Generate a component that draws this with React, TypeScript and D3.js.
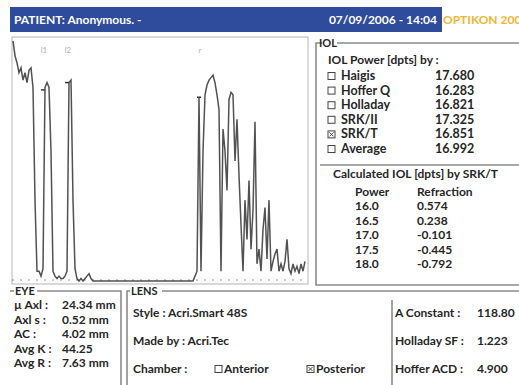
import * as d3 from "d3";

// A-scan amplitude (% of full height), one sample every 2 px of depth
const scanAmp = [
  98, 92, 89, 85, 87, 82, 85, 81, 86, 87, 79, 33, 4, 4, 2, 5, 79, 81, 79, 53,
  4, 2, 1, 2, 1, 1, 2, 4, 81, 82, 33, 5, 1, 0, 1, 0, 1, 2, 3, 1,
  0, 0, 0, 0, 0, 0, 0, 0, 0, 0, 0, 0, 0, 0, 0, 0, 0, 0, 0, 0,
  0, 0, 0, 0, 0, 0, 0, 0, 0, 0, 0, 0, 0, 0, 0, 0, 0, 0, 0, 0,
  0, 0, 0, 0, 0, 0, 0, 0, 0, 0, 0, 2, 4, 75, 4, 53, 76, 80, 82, 83,
  84, 81, 76, 70, 4, 62, 53, 37, 74, 77, 76, 49, 66, 43, 23, 4, 33, 17, 41, 13,
  29, 65, 7, 13, 4, 21, 30, 9, 33, 4, 8, 11, 13, 4, 7, 4, 8, 17, 5, 3,
  7, 4, 6, 3, 7, 4, 8,
];

// gate markers (sample index) and labels
const gateLabels = ["l1", "l2", "r"];
const gatePos = [15.5, 27.5, 93.5];
const gateAmp = [78, 81, 75];

const iolFormulas = ["Haigis", "Hoffer Q", "Holladay", "SRK/II", "SRK/T", "Average"];
const iolPowers = ["17.680", "16.283", "16.821", "17.325", "16.851", "16.992"];
const iolChecked = [false, false, false, false, true, false];

const calcPower = ["16.0", "16.5", "17.0", "17.5", "18.0"];
const calcRefraction = ["0.574", "0.238", "-0.101", "-0.445", "-0.792"];

const eyeLabels = ["µ Axl :", "Axl s :", "AC :", "Avg K :", "Avg R :"];
const eyeValues = ["24.34 mm", "0.52 mm", "4.02 mm", "44.25", "7.63 mm"];

const constLabels = ["A Constant :", "Holladay SF :", "Hoffer ACD :"];
const constValues = ["118.80", "1.223", "4.900"];

const FONT = "Lato, 'Liberation Sans', sans-serif";
const INK = "#262626";
const FRAME = "#8a8a8a";

function CheckBox({ x, y, checked }: { x: number; y: number; checked: boolean }) {
  return (
    <g>
      <rect x={x} y={y - 7.5} width={7} height={7} fill="#fff" stroke="#444" strokeWidth={1} />
      {checked && (
        <path
          d={`M${x + 1.5},${y - 6}L${x + 5.5},${y - 2}M${x + 5.5},${y - 6}L${x + 1.5},${y - 2}`}
          stroke="#444"
          strokeWidth={1}
        />
      )}
    </g>
  );
}

export default function App() {
  const W = 519;
  const H = 385;

  const plot = { left: 12, top: 37, right: 308, bottom: 284 };
  const x = d3
    .scaleLinear()
    .domain([0, scanAmp.length - 1])
    .range([13, 305]);
  const y = d3.scaleLinear().domain([0, 100]).range([281, 36]);
  const line = d3
    .line<number>()
    .x((_, i) => x(i))
    .y((d) => y(d));

  const baseTicks = d3.range(0, scanAmp.length, 4);

  const iolRow = d3.scaleLinear().domain([0, 1]).range([80, 94.6]);
  const calcRow = d3.scaleLinear().domain([0, 1]).range([210, 224.6]);
  const eyeRow = d3.scaleLinear().domain([0, 1]).range([309, 323.5]);
  const lensRow = d3.scaleLinear().domain([0, 1]).range([317, 345]);

  return (
    <svg
      width={W}
      height={H}
      style={{ position: "absolute", left: 0, top: 0, background: "#fff" }}
      fontFamily={FONT}
      fontWeight="bold"
    >
      {/* header */}
      <rect x={10} y={7} width={432} height={25} fill="#2e4b9c" />
      <text x={14} y={24} fill="#fff" fontSize={12}>
        PATIENT: Anonymous. -
      </text>
      <text x={437} y={24} fill="#fff" fontSize={12} textAnchor="end">
        07/09/2006 - 14:04
      </text>
      <text x={443} y={24} fill="#f3b531" fontSize={12}>
        OPTIKON 2000
      </text>

      {/* A-scan */}
      <rect
        x={plot.left}
        y={plot.top}
        width={plot.right - plot.left}
        height={plot.bottom - plot.top}
        fill="#fff"
        stroke="#b5b5b5"
        strokeWidth={1}
      />
      {baseTicks.map((t) => (
        <line key={t} x1={x(t)} x2={x(t)} y1={y(0)} y2={y(0) - 2} stroke="#777" strokeWidth={0.8} />
      ))}
      <path d={line(scanAmp) ?? ""} fill="none" stroke="#333" strokeWidth={1.5} strokeOpacity={0.85} />
      {gateLabels.map((g, i) => (
        <g key={g}>
          <text x={x(gatePos[i])} y={53} fill="#b0b0b0" fontSize={8} fontWeight="normal" textAnchor="middle">
            {g}
          </text>
          <line
            x1={x(gatePos[i]) - 3}
            x2={x(gatePos[i]) + 1}
            y1={y(gateAmp[i])}
            y2={y(gateAmp[i])}
            stroke="#333"
            strokeWidth={1.5}
          />
        </g>
      ))}

      {/* IOL group */}
      <path d={`M322,43H316V285H${W}`} fill="none" stroke={FRAME} strokeWidth={1.6} />
      <path d={`M337,43H${W}`} fill="none" stroke={FRAME} strokeWidth={1.6} />
      <text x={319} y={47} fill={INK} fontSize={11}>
        IOL
      </text>
      <text x={328} y={64} fill={INK} fontSize={12}>
        IOL Power [dpts] by :
      </text>
      {iolFormulas.map((f, i) => (
        <g key={f}>
          <CheckBox x={328} y={iolRow(i)} checked={iolChecked[i]} />
          <text x={341} y={iolRow(i)} fill={INK} fontSize={12.5}>
            {f}
          </text>
          <text x={435} y={iolRow(i)} fill={INK} fontSize={12.5}>
            {iolPowers[i]}
          </text>
        </g>
      ))}
      <line x1={320} x2={W} y1={165} y2={165} stroke={FRAME} strokeWidth={1.6} />
      <text x={333} y={178} fill={INK} fontSize={12}>
        Calculated IOL [dpts] by SRK/T
      </text>
      <text x={355} y={196} fill={INK} fontSize={12}>
        Power
      </text>
      <text x={417} y={196} fill={INK} fontSize={12}>
        Refraction
      </text>
      {calcPower.map((p, i) => (
        <g key={p}>
          <text x={355} y={calcRow(i)} fill={INK} fontSize={12}>
            {p}
          </text>
          <text x={417} y={calcRow(i)} fill={INK} fontSize={12}>
            {calcRefraction[i]}
          </text>
        </g>
      ))}

      {/* EYE group */}
      <path d={`M10,291H14M37,291H121V${H}`} fill="none" stroke={FRAME} strokeWidth={1.6} />
      <text x={15} y={295} fill={INK} fontSize={11}>
        EYE
      </text>
      {eyeLabels.map((l, i) => (
        <g key={l}>
          <text x={14} y={eyeRow(i)} fill={INK} fontSize={12}>
            {l}
          </text>
          <text x={62} y={eyeRow(i)} fill={INK} fontSize={12}>
            {eyeValues[i]}
          </text>
        </g>
      ))}

      {/* LENS group */}
      <path d={`M130,291H127V${H}M162,291H${W}`} fill="none" stroke={FRAME} strokeWidth={1.6} />
      <text x={131} y={295} fill={INK} fontSize={11}>
        LENS
      </text>
      <text x={133} y={lensRow(0)} fill={INK} fontSize={12}>
        Style : Acri.Smart 48S
      </text>
      <text x={133} y={lensRow(1)} fill={INK} fontSize={12}>
        Made by : Acri.Tec
      </text>
      <text x={133} y={lensRow(2)} fill={INK} fontSize={12}>
        Chamber :
      </text>
      <CheckBox x={215} y={lensRow(2)} checked={false} />
      <text x={224} y={lensRow(2)} fill={INK} fontSize={12}>
        Anterior
      </text>
      <CheckBox x={307} y={lensRow(2)} checked={true} />
      <text x={316} y={lensRow(2)} fill={INK} fontSize={12}>
        Posterior
      </text>

      <line x1={392} x2={392} y1={300} y2={H} stroke={FRAME} strokeWidth={1.6} />
      {constLabels.map((c, i) => (
        <g key={c}>
          <text x={395} y={lensRow(i)} fill={INK} fontSize={12}>
            {c}
          </text>
          <text x={477} y={lensRow(i)} fill={INK} fontSize={12}>
            {constValues[i]}
          </text>
        </g>
      ))}
    </svg>
  );
}
